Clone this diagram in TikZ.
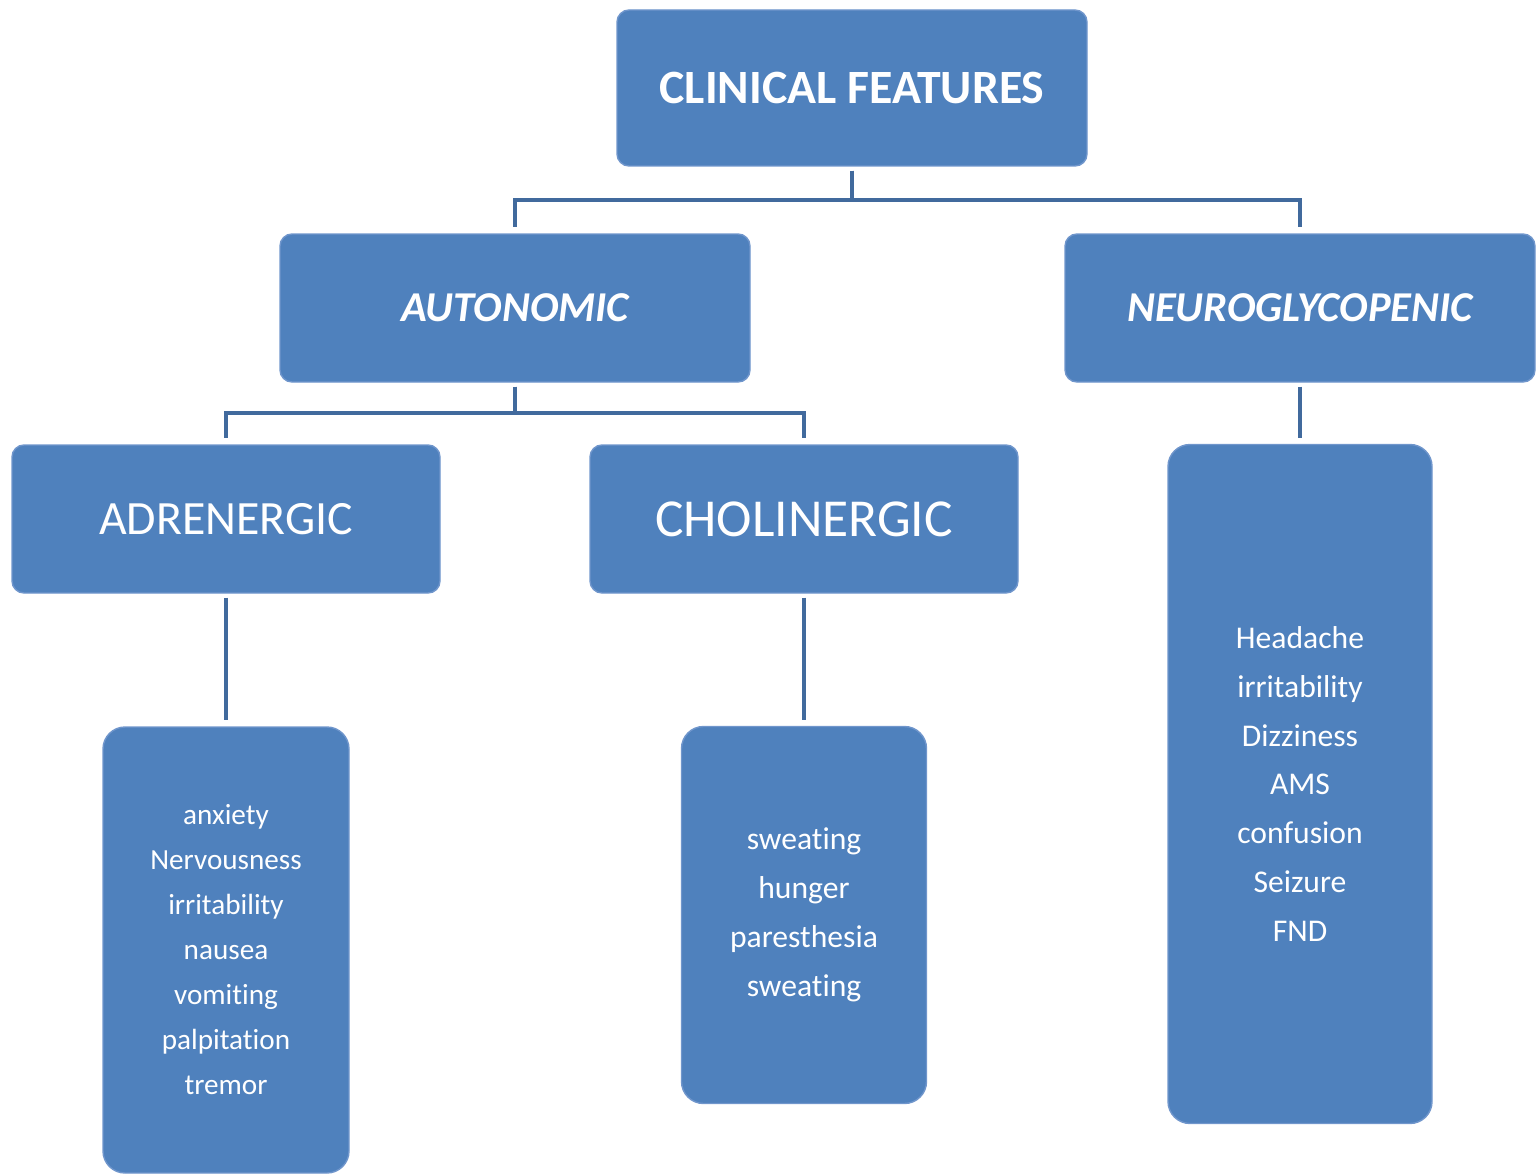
\documentclass[tikz,border=0pt]{standalone}
\usepackage{fontspec}
\setmainfont{Carlito}[Ligatures=NoCommon]
\usetikzlibrary{positioning}
\definecolor{boxfill}{RGB}{79,129,189}
\definecolor{boxedge}{RGB}{112,150,204}
\definecolor{linecol}{RGB}{65,106,157}
\begin{document}
\begin{tikzpicture}[
  on grid,
  box/.style      = {draw=boxedge, line width=0.4pt, fill=boxfill, text=white,
                     rounded corners=0.12cm, align=center, inner sep=0pt},
  topbox/.style   = {box, minimum width=4.7cm, minimum height=1.56cm,
                     font=\fontsize{13.6}{17}\selectfont\bfseries},
  groupbox/.style = {box, minimum width=4.7cm, minimum height=1.48cm,
                     font=\fontsize{12.1}{15}\selectfont\bfseries\itshape},
  typebox/.style  = {box, minimum width=4.28cm, minimum height=1.48cm,
                     font=\fontsize{13.6}{16}\selectfont},
  listbox/.style  = {box, rounded corners=0.22cm,
                     font=\fontsize{9}{13.9}\selectfont},
  conn/.style     = {draw=linecol, line width=1.15pt,
                     shorten <=0.04cm, shorten >=0.06cm},
]
\useasboundingbox (0,0) rectangle (15.36,-11.75);
\node[topbox]                                      (clin)  at (8.52,-0.88) {CLINICAL FEATURES};
\node[groupbox, below left=2.2cm and 3.37cm of clin]  (auto)  {AUTONOMIC};
\node[groupbox, below right=2.2cm and 4.48cm of clin] (neuro) {NEUROGLYCOPENIC};
\node[typebox,  below left=2.11cm and 2.89cm of auto]  (adr)  {ADRENERGIC};
\node[typebox,  below right=2.11cm and 2.89cm of auto,
      font=\fontsize{15.2}{18}\selectfont] (chol) {CHOLINERGIC};
\node[listbox, minimum width=2.46cm, minimum height=4.46cm,
      font=\fontsize{8.3}{12.8}\selectfont, below=4.31cm of adr] (adrlist)
  {anxiety\\Nervousness\\irritability\\nausea\\vomiting\\palpitation\\tremor};
\node[listbox, minimum width=2.45cm, minimum height=3.77cm,
      below=3.96cm of chol] (chollist)
  {sweating\\hunger\\paresthesia\\sweating};
\node[listbox, minimum width=2.64cm, minimum height=6.79cm,
      below=4.76cm of neuro] (neurolist)
  {Headache\\irritability\\Dizziness\\AMS\\confusion\\Seizure\\FND};
% tree connectors
\draw[conn] (clin.south) -- ++(0,-0.33cm) -| (auto.north);
\draw[conn] (clin.south) -- ++(0,-0.33cm) -| (neuro.north);
\draw[conn] (auto.south) -- ++(0,-0.3cm) -| (adr.north);
\draw[conn] (auto.south) -- ++(0,-0.3cm) -| (chol.north);
\draw[conn] (neuro) -- (neurolist);
\draw[conn] (adr) -- (adrlist);
\draw[conn] (chol) -- (chollist);
\end{tikzpicture}
\end{document}
